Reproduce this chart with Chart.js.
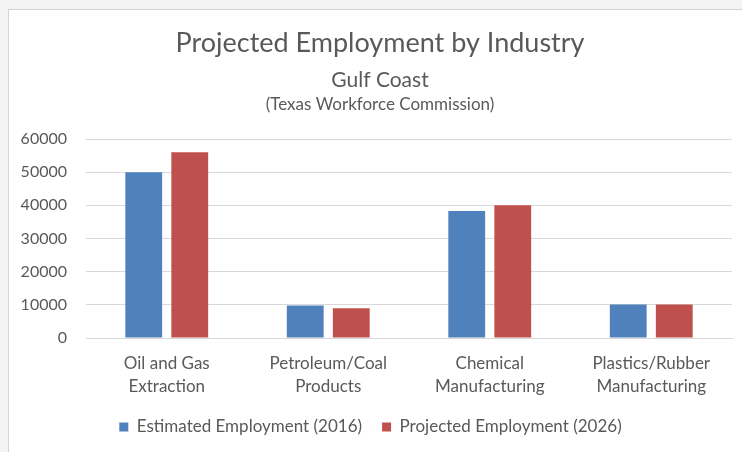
<!DOCTYPE html>
<html>
<head>
<meta charset="utf-8">
<title>Projected Employment by Industry</title>
<script src="https://cdn.jsdelivr.net/npm/chart.js"></script>
<style>
    html, body { margin: 0; padding: 0; }
    body { background: #f3f3f3; width: 742px; height: 452px; overflow: hidden; }
    #rahmen {
        position: absolute; left: 8px; top: 9px;
        width: 740px; height: 450px;
        background: #ffffff;
        border-left: 1px solid #d4d4d4;
        border-top: 1px solid #d4d4d4;
    }
    #chartBox { position: absolute; left: 0; top: 0; width: 733px; height: 442px; }
</style>
</head>
<body>
<div id="rahmen">
    <div id="chartBox"><canvas id="employmentChart"></canvas></div>
</div>
<script>
// Daten
const industries = [
    ['Oil and Gas', 'Extraction'],
    ['Petroleum/Coal', 'Products'],
    ['Chemical', 'Manufacturing'],
    ['Plastics/Rubber', 'Manufacturing']
];
const estimated2016 = [50000, 9800, 38300, 10100];
const projected2026 = [56000, 9000, 40000, 10100];
const seriesNames = ['Estimated Employment (2016)', 'Projected Employment (2026)'];
const headerLines = ['Projected Employment by Industry', 'Gulf Coast', '(Texas Workforce Commission)'];

const textColor = '#595959';
const gridColor = '#d9d9d9';
const fontFamily = 'Lato, "Open Sans", sans-serif';

// Drei Titelzeilen in verschiedenen Grössen
const headerPlugin = {
    id: 'header',
    afterDraw(chart) {
        const ctx = chart.ctx;
        const x = 371;
        const lines = [
            { text: headerLines[0], size: 27, y: 42 },
            { text: headerLines[1], size: 21, y: 77 },
            { text: headerLines[2], size: 17, y: 99.5 }
        ];
        ctx.save();
        ctx.fillStyle = textColor;
        ctx.textAlign = 'center';
        ctx.textBaseline = 'alphabetic';
        lines.forEach(line => {
            ctx.font = `${line.size}px ${fontFamily}`;
            ctx.fillText(line.text, x, line.y);
        });
        ctx.restore();
    }
};

const ctx = document.getElementById('employmentChart').getContext('2d');
const employmentChart = new Chart(ctx, {
    type: 'bar',
    data: {
        labels: industries,
        datasets: [{
            label: seriesNames[0],
            data: estimated2016,
            backgroundColor: '#4f81bd'
        }, {
            label: seriesNames[1],
            data: projected2026,
            backgroundColor: '#c0504d'
        }]
    },
    options: {
        responsive: true,
        maintainAspectRatio: false,
        animation: false,
        categoryPercentage: 0.57,
        barPercentage: 0.8,
        layout: {
            padding: { top: 129, left: 0, right: 10, bottom: 6.5 }
        },
        plugins: {
            title: { display: false },
            tooltip: { enabled: false },
            legend: {
                position: 'bottom',
                labels: {
                    color: textColor,
                    boxWidth: 9,
                    boxHeight: 9,
                    padding: 20,
                    font: { family: fontFamily, size: 17 }
                }
            }
        },
        scales: {
            x: {
                grid: { display: false, drawTicks: false },
                border: { display: true, color: gridColor },
                ticks: {
                    color: textColor,
                    padding: 14.5,
                    maxRotation: 0,
                    font: { family: fontFamily, size: 17, lineHeight: 1.35 }
                },
                // Höhe der Achse fest, damit die Legende weiter unten bleibt
                afterFit: (scale) => { scale.height = 60.5; }
            },
            y: {
                min: 0,
                max: 60000,
                ticks: {
                    stepSize: 10000,
                    color: textColor,
                    padding: 19,
                    font: { family: fontFamily, size: 16 },
                    callback: (value) => String(value)
                },
                grid: { color: gridColor, drawTicks: false },
                border: { display: false },
                afterFit: (scale) => { scale.width = 77; }
            }
        }
    },
    plugins: [headerPlugin]
});
</script>
</body>
</html>
